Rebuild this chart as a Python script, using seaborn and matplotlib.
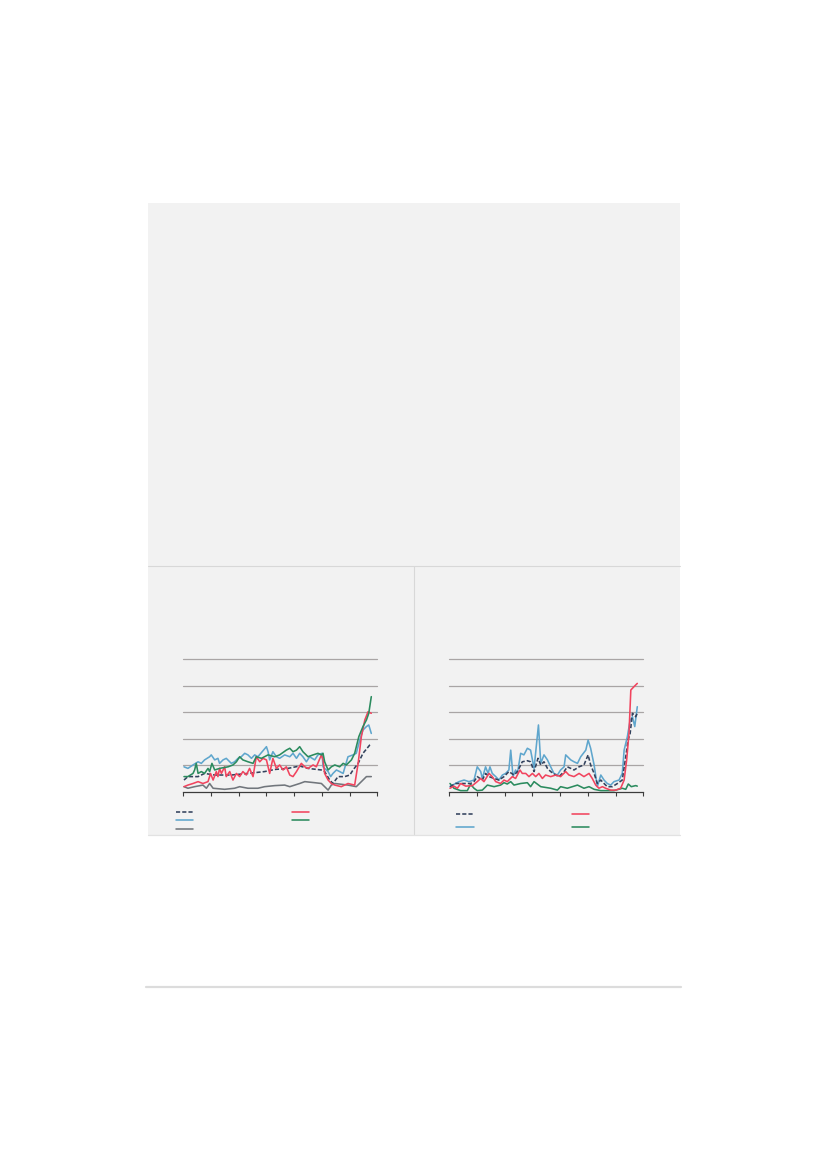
import numpy as np
import pandas as pd
import matplotlib
matplotlib.use("Agg")
import matplotlib.pyplot as plt
import seaborn as sns
from matplotlib.lines import Line2D
from matplotlib.patches import Rectangle

# ---------------- data (months since start, value in gridline units) ----------------
blue_L_m = [0.3,2.0,4.2,6.4,7.8,9.2,11.4,12.1,13.6,15.0,15.7,17.2,18.6,20.8,22.2,23.7,25.1,26.6,28.0,29.5,
            30.9,32.3,36.0,36.7,37.4,38.8,40.3,41.7,43.9,46.1,47.5,49.0,50.4,51.8,53.3,54.7,56.9,58.3,60.1,60.5,
            61.2,62.7,63.8,64.8,66.3,67.7,69.2,71.3,73.5,74.9,76.4,77.8,79.3,80.3,81.4]
blue_L_v = [0.94,0.88,1.01,1.13,1.07,1.20,1.32,1.39,1.20,1.26,1.07,1.20,1.26,1.07,1.13,1.26,1.32,1.45,1.39,1.26,
            1.39,1.32,1.70,1.51,1.20,1.51,1.32,1.26,1.39,1.32,1.45,1.26,1.45,1.32,1.13,1.32,1.20,1.39,1.45,0.94,
            0.88,0.76,0.57,0.69,0.82,0.76,0.69,1.32,1.39,1.45,1.95,2.33,2.46,2.52,2.20]

green_L_m = [0.3,2.0,4.2,4.9,5.6,6.4,7.8,9.2,10.7,11.4,12.4,13.6,15.7,19.4,21.5,23.0,24.4,25.8,28.0,30.2,
             31.6,33.8,36.7,39.6,41.7,44.6,46.1,47.5,49.0,50.4,51.8,54.0,56.2,58.3,59.8,60.5,61.2,62.7,64.1,65.6,
             67.7,69.2,70.6,72.8,74.2,76.0,77.8,79.3,80.3,81.4]
green_L_v = [0.57,0.57,0.69,0.82,1.07,0.69,0.76,0.69,0.88,0.76,1.07,0.82,0.88,0.94,1.01,1.13,1.32,1.20,1.13,1.07,
             1.32,1.26,1.39,1.32,1.39,1.57,1.64,1.51,1.57,1.70,1.51,1.32,1.39,1.45,1.39,1.45,1.13,0.82,0.94,1.01,
             0.94,1.07,1.01,1.20,1.45,2.08,2.46,2.71,2.96,3.59]

red_L_m = [0.3,2.0,4.2,6.4,8.5,10.7,11.8,12.9,14.3,15.0,15.7,16.5,17.9,18.6,20.1,21.5,23.0,24.4,25.8,27.3,
           28.7,30.2,31.6,33.1,34.5,36.0,37.4,38.8,40.3,41.7,43.2,44.6,46.1,47.5,49.0,51.1,52.6,54.0,56.2,57.6,
           59.8,60.5,61.2,62.7,64.1,65.6,68.4,71.3,74.2,75.7,77.1,78.6,80.0,81.4]
red_L_v = [0.19,0.25,0.31,0.38,0.31,0.38,0.69,0.44,0.76,0.57,0.88,0.69,0.94,0.57,0.76,0.44,0.69,0.57,0.76,0.63,
           0.88,0.57,1.32,1.13,1.26,1.20,0.69,1.26,0.88,1.01,0.82,0.94,0.63,0.57,0.76,1.07,0.94,0.88,1.01,0.94,
           1.39,1.20,0.69,0.44,0.31,0.25,0.19,0.31,0.25,1.07,2.08,2.71,3.02,2.96]

navy_L_m = [0.3,2.0,6.4,9.2,13.6,20.8,28.0,35.2,39.6,45.3,50.4,54.0,59.8,61.2,63.4,64.8,67.0,69.9,72.1,73.5,
            75.7,77.8,80.7,81.4]
navy_L_v = [0.44,0.57,0.57,0.69,0.63,0.63,0.69,0.76,0.84,0.88,0.97,0.88,0.82,0.76,0.44,0.31,0.57,0.57,0.63,0.82,
            1.07,1.45,1.76,1.80]

grey_L_m = [0.3,2.0,4.9,8.5,10.0,11.4,12.9,17.9,22.2,24.4,28.0,32.3,35.2,39.6,43.9,46.1,50.4,52.6,56.9,59.8,
            61.2,62.7,64.1,65.6,71.3,74.9,77.1,79.3,81.4]
grey_L_v = [0.19,0.13,0.19,0.25,0.13,0.31,0.13,0.09,0.13,0.19,0.13,0.13,0.19,0.23,0.25,0.19,0.31,0.38,0.34,0.31,
            0.19,0.06,0.25,0.31,0.25,0.19,0.38,0.57,0.57]

blue_R_m = [0.3,2.7,4.2,6.4,8.5,10.7,12.1,13.6,14.3,15.7,16.8,17.6,18.6,20.1,21.5,23.0,24.4,25.8,26.6,27.6,
            28.7,29.5,30.9,32.3,33.8,35.2,36.7,38.6,39.6,41.0,42.5,43.9,45.3,46.8,48.2,49.7,50.4,52.6,54.0,55.5,
            56.9,59.1,60.1,61.2,62.7,64.1,65.6,67.0,68.4,69.9,71.3,73.5,74.9,75.7,77.1,78.3,79.3,80.3,81.4]
blue_R_v = [0.19,0.31,0.38,0.44,0.38,0.44,0.94,0.76,0.50,0.94,0.69,0.94,0.69,0.57,0.44,0.63,0.69,0.82,1.57,0.57,
            0.82,0.69,1.45,1.39,1.64,1.57,0.88,2.52,1.07,1.39,1.20,0.94,0.69,0.63,0.82,0.94,1.39,1.20,1.13,1.07,
            1.32,1.57,1.95,1.64,1.01,0.19,0.63,0.44,0.31,0.25,0.38,0.44,0.69,1.57,2.08,2.70,2.83,2.46,3.21]

navy_R_m = [0.3,2.7,6.4,9.2,10.7,12.1,14.3,15.7,17.2,19.4,21.5,23.7,25.8,28.0,29.5,31.6,33.8,35.2,36.7,38.4,
            39.6,41.0,42.5,43.9,46.1,47.5,49.7,51.1,52.6,54.0,56.2,58.3,60.1,61.2,62.7,64.1,65.6,67.0,68.4,70.6,
            72.8,74.9,76.4,77.4,78.3,79.3,80.7,81.4]
navy_R_v = [0.19,0.31,0.31,0.31,0.38,0.57,0.44,0.69,0.57,0.50,0.44,0.57,0.76,0.63,0.76,1.13,1.17,1.13,0.76,1.26,
            1.01,1.13,0.88,0.76,0.63,0.57,0.76,0.94,0.88,0.82,0.94,1.01,1.39,1.01,0.69,0.31,0.44,0.31,0.19,0.19,
            0.31,0.44,1.32,1.95,2.20,2.96,2.83,2.96]

red_R_m = [0.3,2.0,3.5,4.9,7.1,10.0,12.1,13.6,15.0,17.2,18.6,20.1,22.2,23.7,25.1,27.3,28.7,30.6,31.6,33.1,
           34.5,36.0,37.4,38.8,40.3,41.7,43.9,46.1,48.2,50.4,51.8,54.0,56.2,58.3,60.5,61.9,63.4,64.8,66.3,67.7,
           69.9,72.1,74.2,75.7,76.8,77.8,78.6,80.0,81.4]
red_R_v = [0.13,0.21,0.13,0.31,0.21,0.23,0.38,0.50,0.38,0.69,0.57,0.38,0.31,0.44,0.38,0.57,0.50,0.82,0.69,0.69,
           0.57,0.69,0.57,0.69,0.50,0.63,0.57,0.63,0.57,0.76,0.63,0.57,0.69,0.57,0.69,0.50,0.25,0.13,0.19,0.13,
           0.06,0.06,0.13,0.44,1.20,2.20,3.84,3.97,4.09]

green_R_m = [0.3,2.0,4.9,7.8,9.2,10.7,12.1,14.3,16.5,19.4,22.2,23.7,25.1,26.6,28.0,30.9,33.8,35.2,36.7,39.6,
             43.9,46.8,48.2,51.1,55.5,58.3,60.5,62.7,65.6,71.3,74.9,76.4,77.5,78.8,80.7,81.4]
green_R_v = [0.31,0.13,0.04,0.04,0.28,0.13,0.04,0.06,0.25,0.19,0.25,0.34,0.29,0.38,0.25,0.31,0.34,0.19,0.38,0.19,
             0.13,0.06,0.19,0.13,0.25,0.13,0.19,0.09,0.04,0.04,0.13,0.09,0.29,0.19,0.23,0.21]

x_ticks = [0, 12, 24, 36, 48, 60, 72, 84]
y_ticks = [1, 2, 3, 4, 5]

# ---------------- style ----------------
NAVY = '#33425d'
BLUE = '#5fa6cd'
RED = '#f1445e'
GREEN = '#2b8b5e'
GREY = '#71767c'
DASH = (0, (2.6, 1.3))

sns.set_theme(style="white")
plt.rcParams['font.family'] = ['DejaVu Sans']

W, H = 827, 1169
fig = plt.figure(figsize=(8.27, 11.69), dpi=100)
fig.patch.set_facecolor('white')

def fx(x):
    return x / W

def fy(y):
    return 1 - y / H

# page panel
fig.add_artist(Rectangle((fx(148), fy(835)), (680 - 148) / W, (835 - 203) / H,
                         transform=fig.transFigure, facecolor='#f2f2f2', edgecolor='none', zorder=0))
fig.add_artist(Line2D([fx(148), fx(680)], [fy(566), fy(566)], transform=fig.transFigure,
                      color='#d8d8d8', lw=0.8))
fig.add_artist(Line2D([fx(413.5), fx(413.5)], [fy(566), fy(835)], transform=fig.transFigure,
                      color='#d8d8d8', lw=0.8))
fig.add_artist(Line2D([fx(148), fx(680)], [fy(835), fy(835)], transform=fig.transFigure,
                      color='#e2e2e2', lw=0.9))
fig.add_artist(Line2D([fx(146), fx(681)], [fy(987), fy(987)], transform=fig.transFigure,
                      color='#dcdcdc', lw=1.6))


def make_axes(left_px):
    ax = fig.add_axes([fx(left_px), fy(791.7), 194 / W, 132.4 / H])
    ax.set_facecolor('none')
    ax.set_xlim(0, 84)
    ax.set_ylim(0, 5)
    ax.set_xticks(x_ticks)
    ax.set_yticks(y_ticks)
    ax.set_xticklabels([])
    ax.set_yticklabels([])
    ax.yaxis.grid(True, color='#a9a5a5', lw=0.9)
    ax.xaxis.grid(False)
    for s in ['top', 'right', 'left']:
        ax.spines[s].set_visible(False)
    ax.spines['bottom'].set_color('#3c3c3c')
    ax.spines['bottom'].set_linewidth(0.9)
    ax.tick_params(axis='x', direction='out', length=3, width=0.8, color='#3c3c3c', bottom=True)
    ax.tick_params(axis='y', length=0)
    ax.set_xlabel('')
    ax.set_ylabel('')
    for gl in ax.get_ygridlines():
        gl.set_clip_on(False)
    return ax


def draw(ax, m, v, color, ls='-'):
    df = pd.DataFrame({'m': m, 'v': v})
    sns.lineplot(data=df, x='m', y='v', ax=ax, color=color, lw=1.15, linestyle=ls,
                 errorbar=None, legend=False)


axL = make_axes(183.3)
draw(axL, grey_L_m, grey_L_v, GREY)
draw(axL, blue_L_m, blue_L_v, BLUE)
draw(axL, navy_L_m, navy_L_v, NAVY, DASH)
draw(axL, red_L_m, red_L_v, RED)
draw(axL, green_L_m, green_L_v, GREEN)
axL.set_xlabel('')
axL.set_ylabel('')

axR = make_axes(449.3)
draw(axR, green_R_m, green_R_v, GREEN)
draw(axR, blue_R_m, blue_R_v, BLUE)
draw(axR, navy_R_m, navy_R_v, NAVY, DASH)
draw(axR, red_R_m, red_R_v, RED)
axR.set_xlabel('')
axR.set_ylabel('')


# legend swatches (no visible labels in the reference)
def swatch(x0, x1, y, color, ls='-'):
    fig.add_artist(Line2D([fx(x0), fx(x1)], [fy(y), fy(y)], transform=fig.transFigure,
                          color=color, lw=1.15, linestyle=ls))

swatch(176, 192.7, 812.3, NAVY, DASH)
swatch(176, 192.7, 820.3, BLUE)
swatch(176, 192.7, 829.3, GREY)
swatch(292, 308.7, 812.3, RED)
swatch(292, 308.7, 820.3, GREEN)

swatch(456.3, 473.7, 814.3, NAVY, DASH)
swatch(456.3, 473.7, 827.3, BLUE)
swatch(572.3, 589.3, 814.3, RED)
swatch(572.3, 589.3, 827.3, GREEN)

fig.savefig('out.png', dpi=100, facecolor='white')
